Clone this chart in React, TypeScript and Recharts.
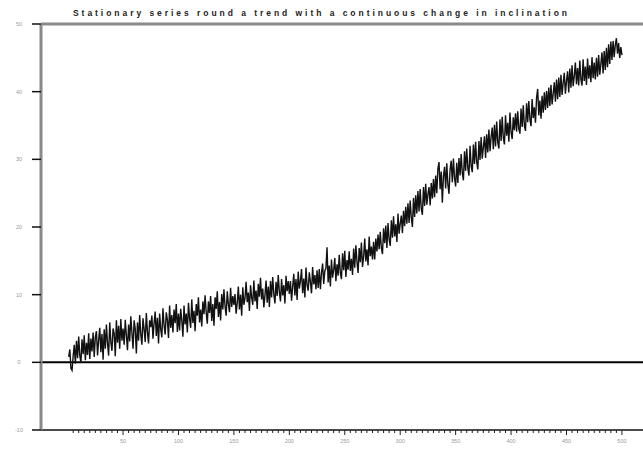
import React from 'react';
import { LineChart, Line, XAxis, YAxis, ReferenceLine } from 'recharts';

// observed series, t = 1..500
const values = [
  0.8, 1.9, -0.9, -1.2, 0.9, 2.6, -0.2, 3.2, 0.6, 3.8, 1.0, -0.1, 3.4, 1.2, 4.0, 0.3, 2.9, 1.1, 4.3, 0.5, 3.5, 1.6, 4.4, 0.8, 3.7,
  4.6, 1.0, 3.3, 5.1, 1.5, 4.2, 0.4, 4.9, 2.0, 5.6, 2.8, 1.0, 5.9, 3.0, 1.7, 5.0, 4.3, 0.9, 6.2, 2.9, 5.4, 2.0, 6.4, 3.2, 5.0,
  2.6, 6.3, 4.0, 1.8, 5.6, 3.1, 6.8, 4.4, 2.0, 6.2, 4.9, 1.3, 5.9, 3.2, 7.0, 4.1, 2.6, 6.5, 4.9, 3.0, 7.3, 4.5, 2.8, 6.2, 5.2,
  6.9, 3.5, 5.8, 7.5, 3.9, 6.6, 2.8, 7.2, 4.9, 3.7, 8.0, 5.5, 4.1, 7.4, 6.3, 3.6, 8.4, 5.1, 7.0, 4.4, 7.8, 5.8, 8.6, 4.5, 7.2,
  4.7, 7.9, 6.2, 3.8, 8.4, 5.6, 7.2, 4.4, 8.8, 6.5, 5.1, 9.3, 5.8, 7.6, 4.6, 8.6, 6.9, 9.6, 5.9, 7.8, 5.3, 9.0, 7.1, 9.9, 7.4,
  5.7, 9.0, 7.3, 9.8, 6.1, 8.6, 5.4, 9.6, 7.9, 10.5, 6.7, 8.9, 6.2, 10.1, 7.8, 10.8, 8.3, 6.9, 10.5, 8.6, 7.4, 11.0, 8.2, 9.8, 8.5,
  10.1, 7.2, 8.8, 11.2, 7.8, 10.0, 6.9, 11.1, 8.5, 9.5, 11.9, 8.9, 10.3, 7.6, 11.4, 9.6, 8.5, 12.1, 9.0, 10.6, 7.9, 11.6, 9.7, 12.5, 9.3,
  10.9, 8.1, 9.9, 12.1, 8.8, 11.2, 8.2, 12.0, 9.6, 12.6, 10.1, 8.7, 11.9, 9.8, 12.9, 10.4, 9.0, 12.3, 9.9, 11.4, 8.7, 12.8, 10.5, 12.0, 10.1,
  12.0, 9.1, 11.2, 13.1, 9.9, 12.3, 9.2, 13.4, 10.9, 12.0, 13.8, 10.2, 12.4, 9.6, 14.0, 11.4, 10.6, 13.3, 11.9, 10.2, 14.1, 11.5, 12.9, 10.8, 13.6,
  11.0, 13.8, 10.8, 13.2, 14.6, 11.6, 13.5, 13.9, 17.0, 11.8, 14.3, 11.2, 15.2, 12.5, 13.7, 15.4, 12.0, 14.5, 12.8, 15.9, 13.2, 12.3, 16.1, 13.6, 16.5,
  12.6, 15.1, 13.7, 16.4, 13.5, 15.3, 12.9, 16.8, 14.0, 17.3, 14.9, 13.2, 16.9, 14.8, 17.7, 14.1, 15.6, 18.3, 14.9, 16.7, 14.3, 18.6, 15.7, 17.1, 15.2,
  17.8, 15.2, 18.3, 16.4, 18.9, 16.7, 19.3, 16.9, 16.0, 19.8, 17.6, 20.2, 16.9, 20.6, 18.2, 17.2, 21.0, 18.4, 21.6, 18.6, 20.4, 17.8, 22.0, 19.0, 20.5,
  21.7, 19.1, 22.4, 20.1, 23.0, 20.5, 23.5, 20.6, 23.9, 21.4, 20.0, 24.3, 21.5, 24.7, 22.0, 25.3, 22.3, 25.6, 22.7, 21.8, 25.9, 23.1, 26.4, 23.3, 24.8,
  25.9, 23.2, 26.5, 24.2, 27.1, 24.4, 27.6, 25.0, 28.6, 29.6, 25.6, 28.2, 23.6, 27.5, 28.9, 25.7, 29.4, 26.3, 24.9, 28.5, 29.8, 26.6, 30.1, 27.2, 26.0,
  29.5, 26.5, 30.2, 27.6, 30.8, 28.0, 26.9, 31.2, 28.3, 31.6, 28.7, 27.6, 32.0, 29.0, 28.1, 32.2, 29.3, 32.6, 29.6, 28.5, 32.7, 29.9, 33.3, 30.1, 31.8,
  33.4, 30.2, 33.7, 31.0, 34.4, 31.2, 33.3, 34.7, 31.5, 35.1, 31.9, 35.6, 32.5, 31.6, 35.9, 32.7, 36.3, 33.2, 32.2, 36.5, 33.5, 35.4, 32.6, 36.9, 34.0,
  33.0, 36.2, 34.3, 36.8, 34.1, 37.1, 34.5, 33.8, 37.5, 34.8, 38.0, 35.0, 34.2, 38.3, 35.5, 38.6, 35.9, 34.9, 38.9, 36.1, 37.7, 35.4, 39.1, 40.4, 36.5,
  38.7, 36.0, 39.4, 36.9, 39.9, 37.3, 40.1, 37.6, 40.6, 37.9, 41.0, 38.1, 39.7, 41.4, 38.5, 41.8, 38.9, 42.1, 39.2, 42.5, 39.5, 41.3, 42.8, 39.7, 41.6,
  43.0, 39.9, 43.4, 40.6, 43.9, 40.8, 42.3, 44.3, 41.1, 43.5, 40.9, 44.6, 41.8, 40.9, 44.8, 41.6, 43.7, 41.0, 44.9, 41.9, 43.9, 41.4, 45.1, 42.0, 44.3,
  41.8, 45.0, 42.2, 45.4, 42.5, 44.1, 45.8, 42.7, 46.0, 43.2, 46.5, 43.6, 47.0, 44.1, 47.4, 44.7, 47.5, 45.1, 46.9, 47.9, 45.6, 47.2, 45.0, 46.6, 45.4,
];

const xLabels = [50, 100, 150, 200, 250, 300, 350, 400, 450, 500];
const yLabels = [-10, 0, 10, 20, 30, 40, 50];
// minor tick marks every 5 steps along the time axis
const xMinor = Array.from({ length: 100 }, (_, i) => (i + 1) * 5);

const Y_MIN = -10;
const Y_MAX = 50;
const PLOT_TOP = 24;
const PLOT_BOTTOM = 430;
const PLOT_LEFT = 41;

const data = values.map((v, i) => ({ t: i + 1, v }));

const TITLE = 'Stationary series round a trend with a continuous change in inclination';
const labelFont = 'Arial, "Liberation Sans", sans-serif';

// same linear map the y axis uses, for the tick marks in the overlay
const yPos = (v: number) => PLOT_TOP + ((Y_MAX - v) / (Y_MAX - Y_MIN)) * (PLOT_BOTTOM - PLOT_TOP);

const XTick = (props: any) => {
  const { x, y, payload } = props;
  const major = xLabels.includes(payload.value);
  return (
    <g>
      <line x1={x} x2={x} y1={y} y2={y + (major ? 5 : 3)} stroke="#222" strokeWidth={1} />
      {major && (
        <text x={x} y={y + 13} textAnchor="middle" fontSize={5.5} fill="#9a9a9a" fontFamily={labelFont}>
          {payload.value}
        </text>
      )}
    </g>
  );
};

const YTick = (props: any) => {
  const { y, payload } = props;
  return (
    <text x={19} y={y + 2} textAnchor="middle" fontSize={5.5} fill="#9a9a9a" fontFamily={labelFont}>
      {payload.value}
    </text>
  );
};

export default function App() {
  return (
    <div style={{ position: 'absolute', left: 0, top: 0, width: 643, height: 449, background: '#fff' }}>
      <LineChart
        width={643}
        height={449}
        data={data}
        margin={{ top: PLOT_TOP, right: 0, bottom: 0, left: 0 }}
      >
        <XAxis
          dataKey="t"
          type="number"
          domain={[-24, 519]}
          allowDataOverflow
          ticks={xMinor}
          interval={0}
          height={449 - PLOT_BOTTOM}
          tickSize={0}
          tickMargin={0}
          tickLine={false}
          tick={<XTick />}
          axisLine={{ stroke: '#111', strokeWidth: 1.5 }}
        />
        <YAxis
          type="number"
          domain={[Y_MIN, Y_MAX]}
          allowDataOverflow
          ticks={yLabels}
          interval={0}
          width={PLOT_LEFT}
          tickSize={0}
          tickMargin={0}
          tickLine={false}
          tick={<YTick />}
          axisLine={{ stroke: '#8a8a8a', strokeWidth: 3 }}
        />
        <ReferenceLine y={Y_MAX} stroke="#8a8a8a" strokeWidth={3} />
        <ReferenceLine y={0} stroke="#000" strokeWidth={2} />
        <Line
          type="linear"
          dataKey="v"
          stroke="#111"
          strokeWidth={1.4}
          dot={false}
          isAnimationActive={false}
        />
      </LineChart>
      <svg
        width={643}
        height={449}
        style={{ position: 'absolute', left: 0, top: 0, pointerEvents: 'none' }}
      >
        <text
          x={73}
          y={16}
          textLength={494}
          lengthAdjust="spacing"
          fontSize={8.5}
          fontWeight="bold"
          fill="#222"
          fontFamily={labelFont}
        >
          {TITLE}
        </text>
        {yLabels.map((v) => (
          <line
            key={v}
            x1={PLOT_LEFT - 9}
            x2={PLOT_LEFT}
            y1={yPos(v)}
            y2={yPos(v)}
            stroke="#111"
            strokeWidth={1.5}
          />
        ))}
      </svg>
    </div>
  );
}
